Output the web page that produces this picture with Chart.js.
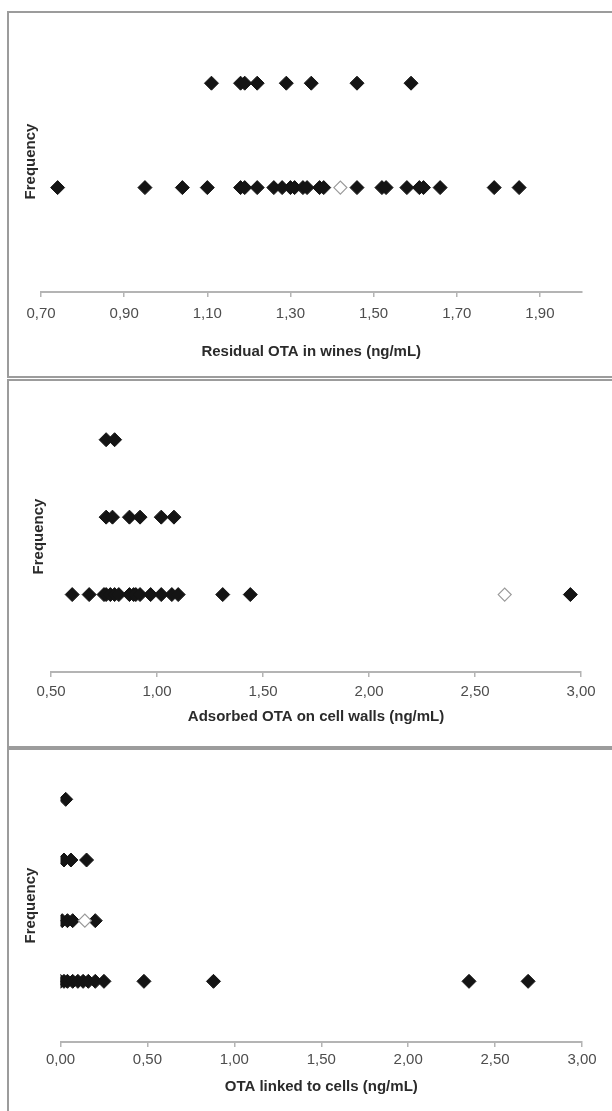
<!DOCTYPE html>
<html>
<head>
<meta charset="utf-8">
<script src="https://cdn.jsdelivr.net/npm/chart.js@4.4.0/dist/chart.umd.min.js"></script>
<style>
html, body { margin: 0; padding: 0; background: #fff; }
body { position: relative; width: 612px; height: 1111px; overflow: hidden; }
.panel { position: absolute; left: 7px; width: 650px; border: 2px solid #9c9c9c; box-sizing: border-box; }
canvas { position: absolute; left: 0; }
</style>
</head>
<body>
<div class="panel" style="top:11px;height:367px"></div>
<div class="panel" style="top:379px;height:369px"></div>
<div class="panel" style="top:748px;height:400px"></div>
<canvas id="c1" width="612" height="378" style="top:0px"></canvas>
<canvas id="c2" width="612" height="369" style="top:379px"></canvas>
<canvas id="c3" width="612" height="363" style="top:748px"></canvas>
<script>
// Residual OTA in wines - x values per frequency level
const residualTicks = [0.70, 0.90, 1.10, 1.30, 1.50, 1.70, 1.90];
const residualFreq1 = [0.74, 0.95, 1.04, 1.10, 1.18, 1.19, 1.22, 1.26, 1.28, 1.30, 1.31, 1.33, 1.34,
                       1.37, 1.38, 1.46, 1.52, 1.53, 1.58, 1.61, 1.62, 1.66, 1.79, 1.85];
const residualFreq2 = [1.11, 1.18, 1.19, 1.22, 1.29, 1.35, 1.46, 1.59];
const residualOpen1 = [1.42];

// Adsorbed OTA on cell walls
const adsorbedTicks = [0.50, 1.00, 1.50, 2.00, 2.50, 3.00];
const adsorbedFreq1 = [0.60, 0.68, 0.75, 0.76, 0.78, 0.80, 0.82, 0.87, 0.89, 0.90, 0.92,
                       0.97, 1.02, 1.07, 1.10, 1.31, 1.44, 2.95];
const adsorbedFreq2 = [0.76, 0.79, 0.87, 0.92, 1.02, 1.08];
const adsorbedFreq3 = [0.76, 0.80];
const adsorbedOpen1 = [2.64];

// OTA linked to cells
const linkedTicks = [0.00, 0.50, 1.00, 1.50, 2.00, 2.50, 3.00];
const linkedFreq1 = [0.00, 0.02, 0.04, 0.07, 0.10, 0.13, 0.16, 0.20, 0.25, 0.48, 0.88, 2.35, 2.69];
const linkedFreq2 = [0.01, 0.04, 0.07, 0.20];
const linkedFreq3 = [0.02, 0.06, 0.15];
const linkedFreq4 = [0.03];
const linkedOpen2 = [0.14];

const FONT = '"Liberation Sans", Arial, sans-serif';
const pts = (xs, f) => xs.map(x => ({ x: x, y: f }));

function dotPlot(id, g, ticks, rows, open, xTitle) {
    const filled = [];
    rows.forEach((xs, i) => filled.push(...pts(xs, i + 1)));
    const lh = 15 * 1.2;
    new Chart(document.getElementById(id), {
        type: 'scatter',
        data: {
            datasets: [
                {
                    // hollow marker, first so it is drawn on top
                    data: pts(open.xs, open.level),
                    pointStyle: 'rectRot',
                    pointRadius: 6.5,
                    backgroundColor: '#ffffff',
                    borderColor: '#9a9a9a',
                    borderWidth: 1.2
                },
                {
                    data: filled,
                    pointStyle: 'rectRot',
                    pointRadius: 7,
                    backgroundColor: '#141414',
                    borderColor: '#141414',
                    borderWidth: 1
                }
            ]
        },
        options: {
            responsive: false,
            animation: false,
            devicePixelRatio: 1,
            layout: { padding: { left: 0, right: 612 - g.right, top: g.top, bottom: 0 } },
            plugins: { legend: { display: false }, tooltip: { enabled: false } },
            scales: {
                x: {
                    type: 'linear',
                    min: g.xMin,
                    max: g.xMax,
                    afterBuildTicks: s => { s.ticks = ticks.map(v => ({ value: v })); },
                    ticks: {
                        callback: v => Number(v).toFixed(2).replace('.', ','),
                        color: '#4d4d4d',
                        font: { family: FONT, size: 15 },
                        padding: g.labelGap - 5 - lh / 2,
                        maxRotation: 0,
                        autoSkip: false
                    },
                    grid: { drawOnChartArea: false, drawTicks: true, tickLength: 5, color: '#b4b4b4', lineWidth: 1.5 },
                    border: { display: true, color: '#b4b4b4', width: 2 },
                    title: {
                        display: true,
                        text: xTitle,
                        color: '#2b2b2b',
                        font: { family: FONT, size: 15, weight: 'bold' },
                        padding: { top: 0, bottom: (g.h - g.bottom) - g.titleGap - lh / 2 }
                    },
                    afterFit: s => { s.height = g.h - g.bottom; }
                },
                y: {
                    min: 0,
                    max: g.yMax,
                    ticks: { display: false },
                    grid: { display: false },
                    border: { display: false },
                    title: {
                        display: true,
                        text: 'Frequency',
                        color: '#2b2b2b',
                        font: { family: FONT, size: 15, weight: 'bold' },
                        padding: { top: g.freqX - lh / 2, bottom: 0 }
                    },
                    afterFit: s => { s.width = g.left; }
                }
            }
        }
    });
}

// geometry in canvas coordinates
dotPlot('c1',
    { h: 378, top: 31, bottom: 292, left: 41, right: 581.5, xMin: 0.70, xMax: 2.00, yMax: 2.5,
      labelGap: 22, titleGap: 60, freqX: 31 },
    residualTicks, [residualFreq1, residualFreq2], { xs: residualOpen1, level: 1 },
    'Residual OTA in wines (ng/mL)');

dotPlot('c2',
    { h: 369, top: 22, bottom: 293, left: 51, right: 581, xMin: 0.50, xMax: 3.00, yMax: 3.5,
      labelGap: 20, titleGap: 45, freqX: 39 },
    adsorbedTicks, [adsorbedFreq1, adsorbedFreq2, adsorbedFreq3], { xs: adsorbedOpen1, level: 1 },
    'Adsorbed OTA on cell walls (ng/mL)');

dotPlot('c3',
    { h: 363, top: 21, bottom: 294, left: 60.5, right: 582, xMin: 0.00, xMax: 3.00, yMax: 4.5,
      labelGap: 18, titleGap: 45, freqX: 31 },
    linkedTicks, [linkedFreq1, linkedFreq2, linkedFreq3, linkedFreq4], { xs: linkedOpen2, level: 2 },
    'OTA linked to cells (ng/mL)');
</script>
</body>
</html>
